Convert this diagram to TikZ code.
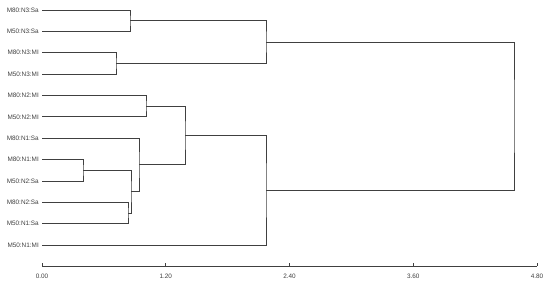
\documentclass[tikz,border=0pt]{standalone}
\usepackage{fontspec}
\setmainfont{Liberation Sans}
\begin{document}
\begin{tikzpicture}[x=1pt,y=-1pt,
  lbl/.style={anchor=east,inner sep=0pt,font=\fontsize{6.4}{7}\selectfont,text=black!75},
  ticklbl/.style={anchor=center,inner sep=0pt,font=\fontsize{6.4}{7}\selectfont,text=black!75},
  br/.style={draw=black!75,line width=0.75pt},
  ax/.style={draw=black!75,line width=0.75pt}]
\useasboundingbox (0,0) rectangle (550,283);
% leaves
\foreach \n/\t [count=\i from 0] in {L1/M80:N3:Sa,L2/M50:N3:Sa,L3/M80:N3:MI,L4/M50:N3:MI,L5/M80:N2:MI,L6/M50:N2:MI,L7/M80:N1:Sa,L8/M80:N1:MI,L9/M50:N2:Sa,L10/M80:N2:Sa,L11/M50:N1:Sa,L12/M50:N1:MI}{
  \coordinate (\n) at (42,{10+21.36*\i});
  \node[lbl] (t\n) at (39,{10+21.36*\i}) {\t};
}
% merges
\coordinate (A) at (130,{10+21.36*0.5});
\coordinate (B) at (116,{10+21.36*2.5});
\coordinate (C) at (266,{10+21.36*1.5});
\coordinate (D) at (146,{10+21.36*4.5});
\coordinate (E) at (83,{10+21.36*7.5});
\coordinate (F) at (128,{10+21.36*9.5});
\coordinate (G) at (131,{10+21.36*8.5});
\coordinate (H) at (139,{10+21.36*7.25});
\coordinate (I) at (185,{10+21.36*5.875});
\coordinate (J) at (266,{10+21.36*8.4375});
\coordinate (K) at (514,{10+21.36*4.96875});
\draw[br] (L1) -| (A) |- (L2);
\draw[br] (L3) -| (B) |- (L4);
\draw[br] (A) -| (C) |- (B);
\draw[br] (L5) -| (D) |- (L6);
\draw[br] (L8) -| (E) |- (L9);
\draw[br] (L10) -| (F) |- (L11);
\draw[br] (E) -| (G) |- (F);
\draw[br] (L7) -| (H) |- (G);
\draw[br] (D) -| (I) |- (H);
\draw[br] (I) -| (J) |- (L12);
\draw[br] (C) -| (K) |- (J);
% axis
\coordinate (a0) at (42,266);
\coordinate (a4) at (537,266);
\draw[ax] (a0) -- (a4);
\foreach \v/\t [count=\i from 0] in {0/0.00,1.2/1.20,2.4/2.40,3.6/3.60,4.8/4.80}{
  \coordinate (tk\i) at ({42+103.125*\v},266);
  \draw[ax] (tk\i) -- ++(0,-3);
  \node[ticklbl] (tl\i) at ({42+103.125*\v},276) {\t};
}
\end{tikzpicture}
\end{document}
